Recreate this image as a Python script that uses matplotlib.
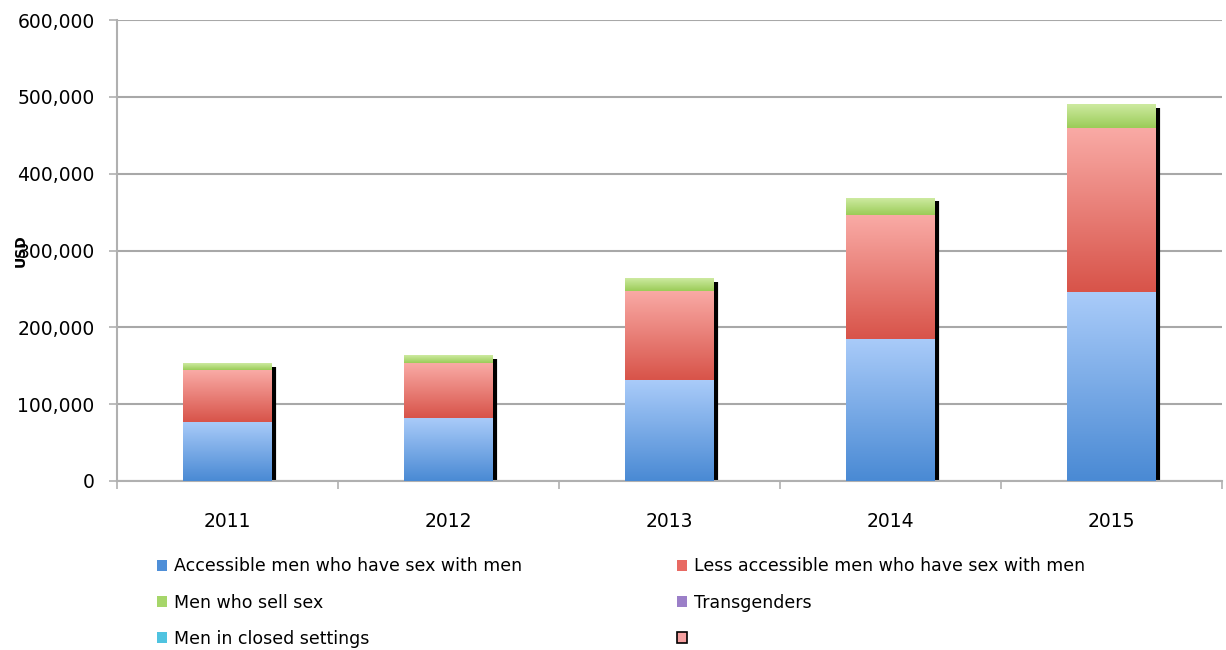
import numpy as np
import matplotlib
matplotlib.use("Agg")
import matplotlib.pyplot as plt
from matplotlib.colors import LinearSegmentedColormap
from matplotlib.patches import Patch
from matplotlib.ticker import FuncFormatter

years = ["2011", "2012", "2013", "2014", "2015"]
accessible_msm = [77000, 82000, 131000, 185000, 246000]
less_accessible_msm = [67000, 71000, 116000, 161000, 214000]
men_sell_sex = [9000, 10000, 16000, 22000, 30000]
transgenders = [0, 0, 0, 0, 0]
closed_settings = [0, 0, 0, 0, 0]
unnamed = [0, 0, 0, 0, 0]

series = [
    ("Accessible men who have sex with men", accessible_msm, "#a9cbf9", "#4a8ad4", "#4f8fd8"),
    ("Less accessible men who have sex with men", less_accessible_msm, "#f9aaa5", "#d8544a", "#e86a63"),
    ("Men who sell sex", men_sell_sex, "#cdeaa0", "#9bcc58", "#a6d66a"),
    ("Transgenders", transgenders, "#c4b0e4", "#8a6cc0", "#9b7fc8"),
    ("Men in closed settings", closed_settings, "#9fe0f2", "#3ab4d8", "#4fc3e0"),
    ("", unnamed, "#f7b0ae", "#f09896", "#f5a0a0"),
]

fig = plt.figure(figsize=(12.26, 6.5), dpi=100)
ax = fig.add_axes([0.0954, 0.26, 0.9013, 0.709])

x = np.arange(len(years))
width = 0.4
bottom = np.zeros(len(years))
grad = np.linspace(0, 1, 64).reshape(-1, 1)
for name, vals, top_c, bot_c, _ in series:
    vals = np.array(vals, dtype=float)
    cmap = LinearSegmentedColormap.from_list(name or "blank", [bot_c, top_c])
    for i in range(len(years)):
        if vals[i] <= 0:
            continue
        ax.imshow(grad, cmap=cmap, origin="lower", aspect="auto",
                  extent=[x[i] - width / 2, x[i] + width / 2, bottom[i], bottom[i] + vals[i]],
                  zorder=3, interpolation="bilinear")
    bottom += vals

# dark shadow at the right edge of each column
ax.vlines(x + width / 2 + 0.012, 0, bottom - 4000, color="black", lw=3, zorder=2)

ax.set_xlim(-0.5, len(years) - 0.5)
ax.set_ylim(0, 600000)
ax.set_yticks(np.arange(0, 600001, 100000))
ax.yaxis.set_major_formatter(FuncFormatter(lambda v, p: f"{int(v):,}"))
ax.set_xticks(x)
ax.set_xticklabels(years)
ax.set_xticks(np.arange(-0.5, len(years)), minor=True)
ax.tick_params(axis="x", which="major", length=0, pad=22, labelsize=13.5)
ax.tick_params(axis="x", which="minor", length=6, width=1.2, color="#b0b0b0")
ax.tick_params(axis="y", length=6, width=1.2, color="#b0b0b0", pad=10, labelsize=13.5)

ax.grid(axis="y", color="#a8a8a8", lw=1.5, zorder=0)
ax.set_axisbelow(True)
for s in ["top", "right"]:
    ax.spines[s].set_visible(False)
for s in ["left", "bottom"]:
    ax.spines[s].set_color("#b0b0b0")
    ax.spines[s].set_linewidth(1.5)

fig.text(0.011, 0.615, "USD", rotation=90, fontsize=10, fontweight="bold", va="center")

handles = []
for name, _, _, _, col in series:
    ec = "black" if name == "" else col
    handles.append(Patch(facecolor=col, edgecolor=ec, lw=1.2 if name == "" else 0))
order = [0, 2, 4, 1, 3, 5]
leg = fig.legend([handles[i] for i in order], [series[i][0] for i in order],
                 ncol=2, loc="upper left", bbox_to_anchor=(0.122, 0.153),
                 frameon=False, fontsize=12.5, handlelength=0.6, handleheight=0.6,
                 handletextpad=0.4, columnspacing=8.9, labelspacing=1.05,
                 borderaxespad=0)

fig.savefig("out.png", dpi=100)
